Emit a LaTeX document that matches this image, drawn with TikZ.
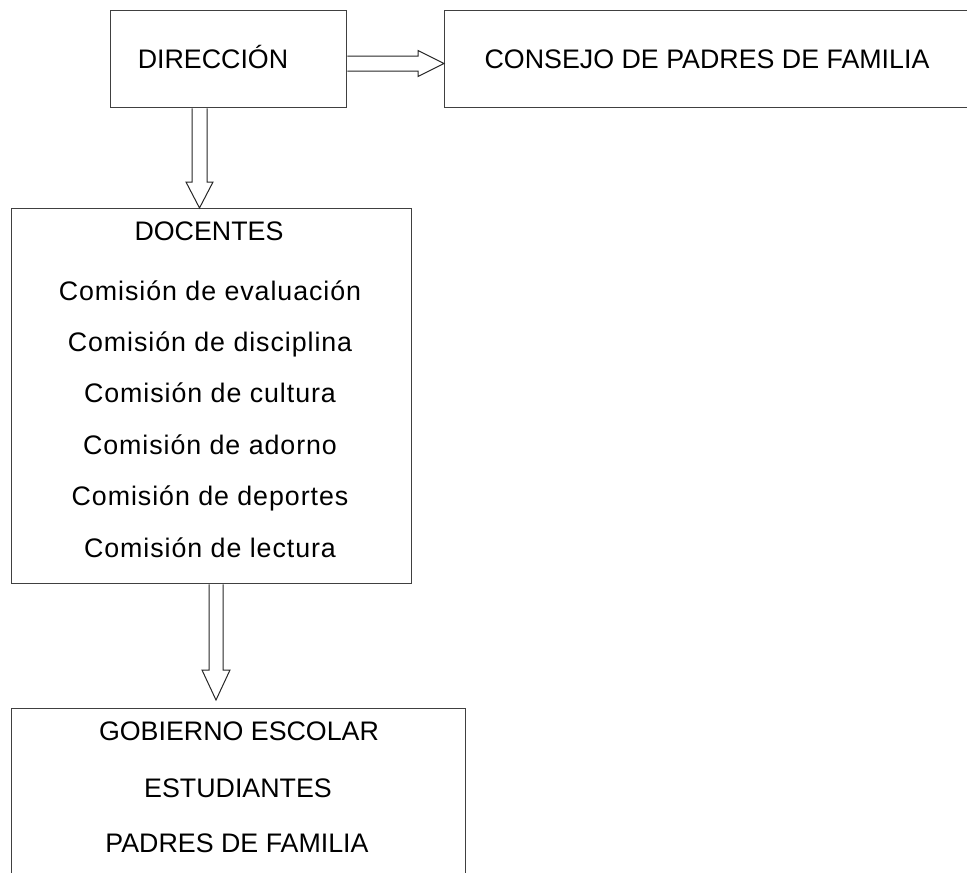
\documentclass[tikz,border=0pt]{standalone}
\usepackage{fontspec}
\setmainfont{Liberation Sans}
\usetikzlibrary{calc}

\begin{document}
\begin{tikzpicture}[x=1pt,y=-1pt]
				\tikzstyle{caja}=[draw=black!75,line width=1.3pt,rectangle,anchor=north west,inner sep=0pt]
				\tikzstyle{texto}=[anchor=base,inner sep=0pt,font=\fontsize{26.8}{30}\selectfont]
				\tikzstyle{comision}=[texto,font=\fontsize{26.8}{30}\selectfont\addfontfeature{LetterSpace=3.5}]
				\tikzstyle{flecha}=[draw=black!85,line width=1pt]
				\clip (0,0) rectangle (967,873);
				% cajas
				\node[caja,minimum width=236,minimum height=97] (dir) at (110,10) {};
				\node[caja,minimum width=600,minimum height=97] (cons) at (444,10) {};
				\node[caja,minimum width=400,minimum height=375] (doc) at (11,208) {};
				\node[caja,minimum width=454,minimum height=220] (gob) at (11,708) {};
				% textos
				\node[texto] (tdir) at (213,68) {DIRECCIÓN};
				\node[texto] (tcons) at (707,68) {CONSEJO DE PADRES DE FAMILIA};
				\node[texto] (tdoc) at (209,240) {DOCENTES};
				\foreach \nombre [count=\i from 0] in {evaluación,disciplina,cultura,adorno,deportes,lectura}
					\node[comision] (com\i) at (210,300+51.4*\i) {Comisión de \nombre};
				\node[texto] (tgob) at (239,740) {GOBIERNO ESCOLAR};
				\node[texto] (test) at (238,797) {ESTUDIANTES};
				\node[texto] (tpad) at (237,852) {PADRES DE FAMILIA};
				% flechas
				\coordinate (a1) at (dir.east |- 0,63.5);
				\coordinate (a2) at (cons.west |- 0,63.5);
				\draw[flecha] ($(a1)+(0,-7.5)$) -- ($(a2)+(-26,-7.5)$) -- ($(a2)+(-26,-13)$) -- (a2) 
					-- ($(a2)+(-26,13)$) -- ($(a2)+(-26,7.5)$) -- ($(a1)+(0,7.5)$);
				\coordinate (b1) at (dir.south -| 199.5,0);
				\coordinate (b2) at (doc.north -| 199.5,0);
				\draw[flecha] ($(b1)+(-7.5,0)$) -- ($(b2)+(-7.5,-26)$) -- ($(b2)+(-13.5,-26)$) -- (b2) 
					-- ($(b2)+(13.5,-26)$) -- ($(b2)+(7.5,-26)$) -- ($(b1)+(7.5,0)$);
				\coordinate (c1) at (doc.south -| 216,0);
				\coordinate (c2) at ($(gob.north -| 216,0)+(0,-8)$);
				\draw[flecha] ($(c1)+(-7,0)$) -- ($(c2)+(-7,-30)$) -- ($(c2)+(-14,-30)$) -- (c2) 
					-- ($(c2)+(14,-30)$) -- ($(c2)+(7,-30)$) -- ($(c1)+(7,0)$);
\end{tikzpicture}
\end{document}
